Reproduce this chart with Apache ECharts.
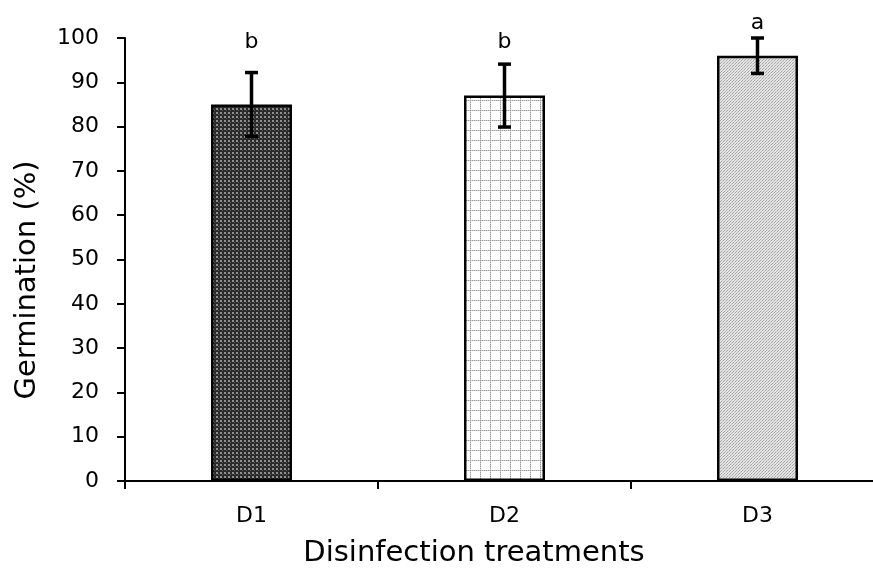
<!DOCTYPE html>
<html>
<head>
<meta charset="utf-8">
<script src="https://cdn.jsdelivr.net/npm/echarts@6/dist/echarts.min.js"></script>
<style>html,body{margin:0;padding:0;background:#fff;overflow:hidden;}#main{width:890px;height:572px;}</style>
</head>
<body>
<div id="main"></div>
<script>
const categories = ['D1', 'D2', 'D3'];
const germination = [85, 87, 96];
const errorSize = [7.2, 7.1, 4];
const letters = ['b', 'b', 'a'];
const yTicks = [0, 10, 20, 30, 40, 50, 60, 70, 80, 90, 100];

function makePattern(kind) {
  const c = document.createElement('canvas');
  const ctx = c.getContext('2d');
  if (kind === 0) {
    c.width = 4; c.height = 4;
    ctx.fillStyle = '#2a2a2a'; ctx.fillRect(0, 0, 4, 4);
    ctx.fillStyle = '#8f8f8f'; ctx.fillRect(0, 0, 2, 2);
    ctx.fillStyle = '#5a5a5a'; ctx.fillRect(2, 2, 1, 1);
  } else if (kind === 1) {
    c.width = 10; c.height = 10;
    ctx.fillStyle = '#ffffff'; ctx.fillRect(0, 0, 10, 10);
    ctx.fillStyle = '#9a9a9a';
    for (let i = 0; i < 10; i += 2) { ctx.fillRect(i, 0, 1, 1); ctx.fillRect(0, i, 1, 1); }
    ctx.fillStyle = '#cfcfcf';
    for (let i = 1; i < 10; i += 2) { ctx.fillRect(i, 0, 1, 1); ctx.fillRect(0, i, 1, 1); }
  } else {
    c.width = 3; c.height = 3;
    ctx.fillStyle = '#e2e2e2'; ctx.fillRect(0, 0, 3, 3);
    ctx.fillStyle = '#a8a8a8'; ctx.fillRect(0, 0, 1, 1); ctx.fillRect(1, 2, 1, 1);
    ctx.fillStyle = '#c2c2c2'; ctx.fillRect(2, 1, 1, 1);
  }
  return { image: c, repeat: 'repeat' };
}

const chart = echarts.init(document.getElementById('main'), null, { renderer: 'canvas' });
const font = 'DejaVu Sans';

const option = {
  backgroundColor: '#fff',
  animation: false,
  grid: { left: 125, top: 38, right: 6, bottom: 91, containLabel: false },
  xAxis: {
    type: 'category',
    data: categories,
    axisLine: { lineStyle: { color: '#000', width: 2 } },
    axisTick: { show: true, length: 8, inside: false, lineStyle: { color: '#000', width: 2 }, alignWithLabel: false },
    axisLabel: { color: '#000', fontFamily: font, fontSize: 22, margin: 24 },
    splitLine: { show: false }
  },
  yAxis: {
    type: 'value',
    min: yTicks[0],
    max: yTicks[yTicks.length - 1],
    interval: yTicks[1] - yTicks[0],
    axisLine: { show: true, lineStyle: { color: '#000', width: 2 } },
    axisTick: { show: true, length: 8, lineStyle: { color: '#000', width: 2 } },
    axisLabel: { color: '#000', fontFamily: font, fontSize: 22, margin: 26 },
    splitLine: { show: false }
  },
  graphic: [
    {
      type: 'text', x: 474, y: 553,
      style: { text: 'Disinfection treatments', font: '29px "' + font + '"', fill: '#000', textAlign: 'center', textVerticalAlign: 'middle' }
    },
    {
      type: 'text', x: 27, y: 280, rotation: Math.PI / 2,
      style: { text: 'Germination (%)', font: '29px "' + font + '"', fill: '#000', textAlign: 'center', textVerticalAlign: 'middle' }
    }
  ],
  series: [
    {
      type: 'bar',
      barWidth: 81,
      data: germination.map((v, i) => ({
        value: v,
        itemStyle: { color: makePattern(i), borderColor: '#000', borderWidth: 2.5 }
      }))
    },
    {
      type: 'custom',
      clip: false,
      z: 5,
      data: germination.map((v, i) => [i, v, errorSize[i]]),
      renderItem: function (params, api) {
        const i = api.value(0), v = api.value(1), e = api.value(2);
        const top = api.coord([i, v + e]);
        const bot = api.coord([i, v - e]);
        const x = top[0];
        const cap = 6.5;
        const ly = Math.min(top[1] - 15, api.coord([i, 99])[1]);
        return {
          type: 'group',
          children: [
            { type: 'line', shape: { x1: x, y1: top[1], x2: x, y2: bot[1] }, style: { stroke: '#000', lineWidth: 3.5 } },
            { type: 'line', shape: { x1: x - cap, y1: top[1], x2: x + cap, y2: top[1] }, style: { stroke: '#000', lineWidth: 3.5 } },
            { type: 'line', shape: { x1: x - cap, y1: bot[1], x2: x + cap, y2: bot[1] }, style: { stroke: '#000', lineWidth: 3.5 } },
            { type: 'text', style: { text: letters[params.dataIndex], x: x, y: ly, textAlign: 'center', textVerticalAlign: 'middle', font: '22px "' + font + '"', fill: '#000' } }
          ]
        };
      }
    }
  ]
};
chart.setOption(option);
</script>
</body>
</html>
